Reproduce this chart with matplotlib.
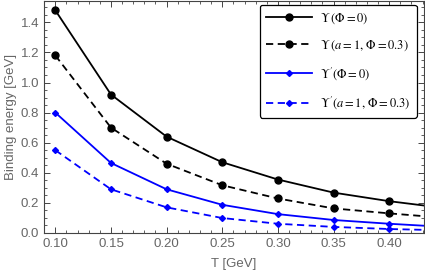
import matplotlib
matplotlib.use('Agg')
import matplotlib.pyplot as plt
from matplotlib.ticker import MultipleLocator, FormatStrFormatter

# Temperatures [GeV] (last point lies just outside the frame)
T = [0.10, 0.15, 0.20, 0.25, 0.30, 0.35, 0.40, 0.45]

# Binding energies [GeV]
ups_phi0 = [1.48, 0.92, 0.64, 0.47, 0.355, 0.268, 0.211, 0.165]
ups_a1 = [1.18, 0.70, 0.46, 0.317, 0.229, 0.163, 0.130, 0.100]
upsp_phi0 = [0.80, 0.465, 0.29, 0.187, 0.125, 0.086, 0.061, 0.040]
upsp_a1 = [0.55, 0.29, 0.17, 0.099, 0.061, 0.040, 0.026, 0.017]

labels = [r'$\Upsilon\,(\Phi=0)$',
          r'$\Upsilon\,(a=1,\,\Phi=0.3)$',
          r"$\Upsilon'(\Phi=0)$",
          r"$\Upsilon'(a=1,\,\Phi=0.3)$"]

plt.rcParams['font.family'] = 'Liberation Sans'
plt.rcParams['mathtext.fontset'] = 'stix'

fig = plt.figure(figsize=(4.25, 2.75), dpi=100)
ax = fig.add_axes([0.104, 0.153, 0.893, 0.845])

ax.plot(T, ups_phi0, color='black', lw=1.3, marker='o', ms=5, label=labels[0])
ax.plot(T, ups_a1, color='black', lw=1.3, ls=(0, (4, 2.5)), marker='o', ms=5, label=labels[1])
ax.plot(T, upsp_phi0, color='#0000ff', lw=1.3, marker='D', ms=3, label=labels[2])
ax.plot(T, upsp_a1, color='#0000ff', lw=1.3, ls=(0, (4, 2.5)), marker='D', ms=3, label=labels[3])

ax.set_xlim(0.090, 0.431)
ax.set_ylim(0.0, 1.545)
ax.xaxis.set_major_locator(MultipleLocator(0.05))
ax.xaxis.set_minor_locator(MultipleLocator(0.01))
ax.yaxis.set_major_locator(MultipleLocator(0.2))
ax.yaxis.set_minor_locator(MultipleLocator(0.05))
ax.xaxis.set_major_formatter(FormatStrFormatter('%.2f'))
ax.yaxis.set_major_formatter(FormatStrFormatter('%.1f'))

gray = '#666666'
ax.tick_params(which='both', direction='in', top=True, right=True, colors='#444444',
               labelcolor=gray, labelsize=9.5)
ax.tick_params(which='major', length=4, width=0.7)
ax.tick_params(which='minor', length=2, width=0.6)
for s in ax.spines.values():
    s.set_color('#444444')
    s.set_linewidth(0.8)

ax.set_xlabel('T [GeV]', color=gray, fontsize=9.5, labelpad=6)
ax.set_ylabel('Binding energy [GeV]', color=gray, fontsize=9.5, labelpad=3)

leg = ax.legend(loc='upper right', fontsize=9, handlelength=3.7, borderpad=0.5,
                labelspacing=1.0, handletextpad=0.6, fancybox=True, framealpha=1,
                edgecolor='black', bbox_to_anchor=(0.998, 1.008))
leg.get_frame().set_linewidth(0.9)

fig.savefig('out.png', dpi=100)
